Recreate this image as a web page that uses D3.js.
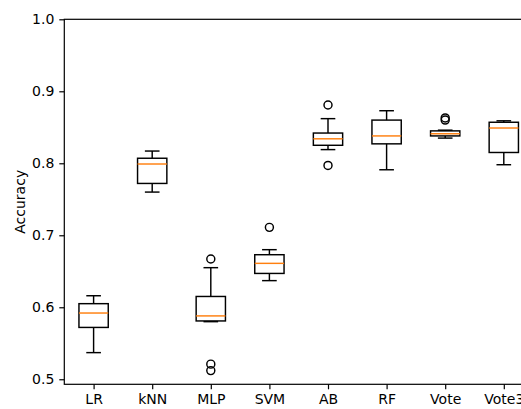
<!DOCTYPE html>
<html>
<head>
<meta charset="utf-8">
<script src="https://cdn.jsdelivr.net/npm/d3@7"></script>
<style>
  body { margin: 0; background: #fff; overflow: hidden; }
  svg { display: block; }
</style>
</head>
<body>
<svg id="chart" width="521" height="409"></svg>
<script>
// Box statistics
var models = ["LR", "kNN", "MLP", "SVM", "AB", "RF", "Vote", "Vote3"];
var whiskerLow  = [0.537, 0.760, 0.580, 0.637, 0.819, 0.791, 0.835, 0.798];
var q1          = [0.572, 0.772, 0.581, 0.647, 0.825, 0.827, 0.838, 0.815];
var medians     = [0.592, 0.799, 0.588, 0.661, 0.834, 0.838, 0.841, 0.849];
var q3          = [0.605, 0.807, 0.615, 0.673, 0.842, 0.860, 0.845, 0.857];
var whiskerHigh = [0.616, 0.817, 0.655, 0.680, 0.862, 0.873, 0.846, 0.859];
var outliers    = [[], [], [0.512, 0.521, 0.667], [0.711], [0.797, 0.881], [], [0.860, 0.863], []];
var yTicks = [0.5, 0.6, 0.7, 0.8, 0.9, 1.0];

var font = "DejaVu Sans";
var margin = { top: 19.3, left: 64.3 };
var width = 8 * 58.6;
var height = 365;

var svg = d3.select("#chart")
  .append("g")
  .attr("transform", "translate(" + margin.left + "," + margin.top + ")");

var x = d3.scaleLinear().domain([0.5, 8.5]).range([0, width]);
var y = d3.scaleLinear().domain([0.493, 1.0]).range([height, 0]);

var boxW = x(1.25) - x(1);   // half box width
var capW = boxW / 2;

// axes
var xAxis = d3.axisBottom(x)
  .tickValues(d3.range(1, models.length + 1))
  .tickFormat(function(d) { return models[d - 1]; })
  .tickSize(5).tickPadding(5).tickSizeOuter(0);
var yAxis = d3.axisLeft(y)
  .tickValues(yTicks)
  .tickFormat(d3.format(".1f"))
  .tickSize(5).tickPadding(5).tickSizeOuter(0);

var gx = svg.append("g").attr("transform", "translate(0," + height + ")").call(xAxis);
var gy = svg.append("g").call(yAxis);
[gx, gy].forEach(function(g) {
  g.attr("font-family", font).attr("font-size", 14);
  g.select(".domain").remove();
  g.selectAll("line").attr("stroke", "#000").attr("stroke-width", 1.2);
  g.selectAll("text").attr("fill", "#000");
});

// frame
svg.append("rect")
  .attr("width", width).attr("height", height)
  .attr("fill", "none").attr("stroke", "#000").attr("stroke-width", 1.2);

// boxes
var boxes = svg.selectAll(".box")
  .data(models)
  .enter().append("g")
  .attr("class", "box")
  .attr("transform", function(d, i) { return "translate(" + x(i + 1) + ",0)"; });

boxes.append("line")
  .attr("y1", function(d, i) { return y(q3[i]); })
  .attr("y2", function(d, i) { return y(whiskerHigh[i]); });
boxes.append("line")
  .attr("y1", function(d, i) { return y(q1[i]); })
  .attr("y2", function(d, i) { return y(whiskerLow[i]); });
boxes.append("line")
  .attr("x1", -capW).attr("x2", capW)
  .attr("y1", function(d, i) { return y(whiskerHigh[i]); })
  .attr("y2", function(d, i) { return y(whiskerHigh[i]); });
boxes.append("line")
  .attr("x1", -capW).attr("x2", capW)
  .attr("y1", function(d, i) { return y(whiskerLow[i]); })
  .attr("y2", function(d, i) { return y(whiskerLow[i]); });
boxes.selectAll("line").attr("stroke", "#000").attr("stroke-width", 1.45);

boxes.append("rect")
  .attr("x", -boxW).attr("width", 2 * boxW)
  .attr("y", function(d, i) { return y(q3[i]); })
  .attr("height", function(d, i) { return y(q1[i]) - y(q3[i]); })
  .attr("fill", "none").attr("stroke", "#000").attr("stroke-width", 1.45);

boxes.append("line")
  .attr("x1", -boxW).attr("x2", boxW)
  .attr("y1", function(d, i) { return y(medians[i]); })
  .attr("y2", function(d, i) { return y(medians[i]); })
  .attr("stroke", "#ff7f0e").attr("stroke-width", 1.45);

boxes.each(function(d, i) {
  d3.select(this).selectAll("circle")
    .data(outliers[i])
    .enter().append("circle")
    .attr("cy", function(v) { return y(v); })
    .attr("r", 4)
    .attr("fill", "none").attr("stroke", "#000").attr("stroke-width", 1.45);
});

// y label
svg.append("text")
  .attr("transform", "rotate(-90)")
  .attr("x", -height / 2)
  .attr("y", -39)
  .attr("text-anchor", "middle")
  .attr("font-family", font)
  .attr("font-size", 14)
  .text("Accuracy");
</script>
</body>
</html>
